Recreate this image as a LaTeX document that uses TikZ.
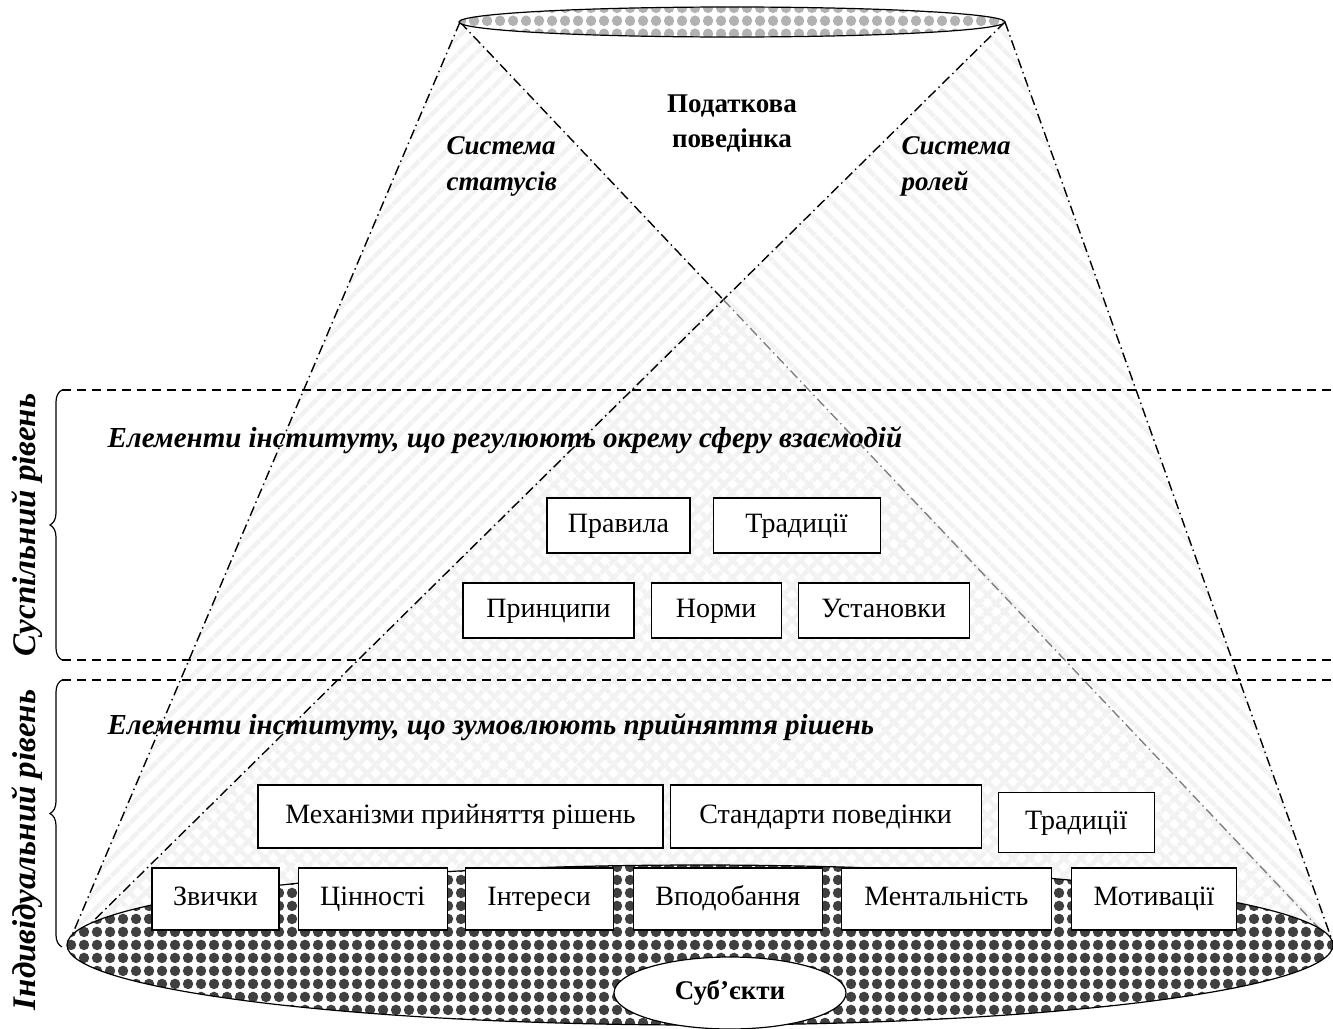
\documentclass[tikz,border=0pt]{standalone}
\usepackage{fontspec}
\setmainfont{Liberation Serif}
\usetikzlibrary{positioning, patterns, patterns.meta, decorations.pathreplacing, shapes.geometric}

\pgfdeclarepatternformonly{balls}{\pgfqpoint{0pt}{0pt}}{\pgfqpoint{13pt}{13pt}}{\pgfqpoint{13pt}{13pt}}{%
  \pgfpathcircle{\pgfqpoint{6.5pt}{6.5pt}}{5.6pt}\pgfusepath{fill}}

\begin{document}
\begin{tikzpicture}[
  x=1pt, y=-1pt,
  elbox/.style={draw, fill=white, line width=1.1pt, font=\fontsize{28}{32}\selectfont,
    minimum height=55pt, inner xsep=4pt, text height=19pt, text depth=6pt},
  head/.style={font=\fontsize{29}{36}\selectfont\bfseries\itshape, anchor=west},
  lvl/.style={font=\fontsize{33}{36}\selectfont\bfseries\itshape, rotate=90},
  cone/.style={line width=1.4pt, dash pattern=on 10pt off 4pt on 1.5pt off 4pt},
  band/.style={line width=1.4pt, dash pattern=on 9pt off 6pt},
  lvlbrace/.style={line width=1.2pt, decorate, decoration={brace, amplitude=12pt}},
  leftpat/.style={pattern={Lines[angle=45, distance=13pt, line width=5pt]}, pattern color=black!5},
  rightpat/.style={pattern={Lines[angle=-45, distance=13pt, line width=5pt]}, pattern color=black!5}
]
\useasboundingbox (0,0) rectangle (1333,1028);

% -------------------------
% Cone corners
% -------------------------

\coordinate (tl) at (460,22);
\coordinate (tr) at (1005,22);
\coordinate (bl) at (67,947);
\coordinate (br) at (1333,943);
\coordinate (cross) at (intersection of tl--br and tr--bl);

% -------------------------
% Hatched wedges (statuses / roles)
% -------------------------

\fill[leftpat] (tl) -- (bl) -- (br) -- cycle;
\fill[rightpat] (tr) -- (br) -- (bl) -- cycle;

% -------------------------
% Levels: dashed bands with braces
% -------------------------

\draw[band] (62,390) -- (1333,390);
\draw[band] (62,660) -- (1333,660);
\draw[band] (62,680) -- (1333,680);
\draw[lvlbrace] (62,660) -- (62,390);
\draw[lvlbrace] (62,947) -- (62,680);

\node[lvl] (soc) at (27,525) {Суспільний рівень};
\node[lvl] (ind) at (27,850) {Індивідуальний рівень};

\node[head] (reg) at (104,440) {Елементи інституту, що регулюють окрему сферу взаємодій};
\node[head] (dec) at (104,727) {Елементи інституту, що зумовлюють прийняття рішень};

% -------------------------
% Cone lines
% -------------------------

\draw[cone] (tl) -- (bl);
\draw[cone] (tr) -- (br);
\draw[cone] (tr) -- (bl);
\draw[cone] (tl) -- (cross);
\draw[cone, gray] (cross) -- (br);

% -------------------------
% Top and bottom ellipses
% -------------------------

\draw[line width=1.2pt, preaction={fill=white}, pattern=balls, pattern color=black!30]
  (732,22) ellipse [x radius=273pt, y radius=15pt];
\draw[line width=1.2pt, preaction={fill=white}, pattern=balls, pattern color=black!75]
  (700,945) ellipse [x radius=633pt, y radius=80pt];

\node[font=\fontsize{27}{35}\selectfont\bfseries, align=center] (tax) at (732,124) {Податкова\\поведінка};
\node[head, font=\fontsize{27}{36}\selectfont\bfseries\itshape, align=left] (stat) at (443,166) {Система\\статусів};
\node[head, font=\fontsize{27}{36}\selectfont\bfseries\itshape, align=left] (role) at (898,166) {Система\\ролей};

% -------------------------
% Boxes of the social level
% -------------------------

\node[elbox, minimum width=143pt] (prav) at (618.5,525.5) {Правила};
\node[elbox, minimum width=167pt, right=22pt of prav] (trad) {Традиції};
\node[elbox, minimum width=171pt] (pryn) at (548.5,610.5) {Принципи};
\node[elbox, minimum width=130pt, right=16pt of pryn] (norm) {Норми};
\node[elbox, minimum width=171pt, right=16pt of norm] (ust) {Установки};

% -------------------------
% Boxes of the individual level
% -------------------------

\node[elbox, minimum width=405pt, minimum height=63pt] (mech) at (460.5,816.5) {Механізми прийняття рішень};
\node[elbox, minimum width=311pt, minimum height=63pt, right=6pt of mech] (stand) {Стандарти поведінки};
\node[elbox, minimum width=156pt, minimum height=60pt, right=16pt of stand, yshift=-6pt] (trad2) {Традиції};

\node[elbox, minimum width=127pt, minimum height=62pt] (zv) at (215.5,899) {Звички};
\node[elbox, minimum width=149pt, minimum height=62pt, right=18pt of zv] (cin) {Цінності};
\node[elbox, minimum width=148pt, minimum height=62pt, right=17pt of cin] (inter) {Інтереси};
\node[elbox, minimum width=189pt, minimum height=62pt, right=19pt of inter] (vpod) {Вподобання};
\node[elbox, minimum width=210pt, minimum height=62pt, right=18pt of vpod] (ment) {Ментальність};
\node[elbox, minimum width=165pt, minimum height=62pt, right=19pt of ment] (motiv) {Мотивації};

\node[ellipse, draw, fill=white, line width=1.2pt, minimum width=232pt, minimum height=72pt,
  font=\fontsize{27}{30}\selectfont\bfseries] (subj) at (730,993) {Суб’єкти};

\end{tikzpicture}
\end{document}
